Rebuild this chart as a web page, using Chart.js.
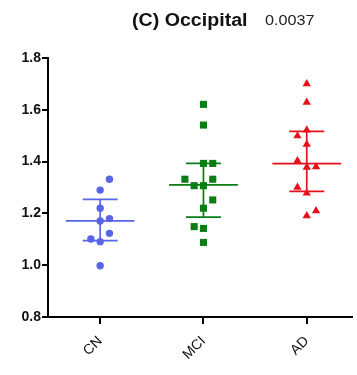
<!DOCTYPE html>
<html>
<head>
<meta charset="utf-8">
<script src="https://cdn.jsdelivr.net/npm/chart.js@4/dist/chart.umd.min.js"></script>
<style>
  html, body { margin: 0; padding: 0; background: #fff; }
  #wrap { position: relative; width: 357px; height: 375px; overflow: hidden; }
  #title { position: absolute; left: 132px; top: 10px; font: bold 18px Arial, 'Liberation Sans', sans-serif; color: #111; white-space: nowrap; transform: scaleX(1.09); transform-origin: left top; }
  #pval { position: absolute; left: 265px; top: 11px; font: 15px Arial, 'Liberation Sans', sans-serif; color: #222; white-space: nowrap; transform: scaleX(1.08); transform-origin: left top; }
  canvas { position: absolute; left: 0; top: 0; }
</style>
</head>
<body>
<div id="wrap">
  <canvas id="chart" width="357" height="375"></canvas>
  <div id="title">(C) Occipital</div>
  <div id="pval">0.0037</div>
</div>
<script>
// groups on the x axis
const groups = ['CN', 'MCI', 'AD'];
const yTicks = [0.8, 1.0, 1.2, 1.4, 1.6, 1.8];

// individual values per group, and their jitter column (-2..+1) in the scatter
const cnVals  = [1.332, 1.290, 1.220, 1.171, 1.180, 1.123, 1.101, 1.091, 0.998];
const cnCols  = [1, 0, 0, 0, 1, 1, -1, 0, 0];
const mciVals = [1.621, 1.541, 1.393, 1.393, 1.332, 1.307, 1.307, 1.332, 1.252, 1.220, 1.149, 1.142, 1.088];
const mciCols = [0, 0, 0, 1, -2, -1, 0, 1, 1, 0, -1, 0, 0];
const adVals  = [1.700, 1.629, 1.522, 1.499, 1.467, 1.403, 1.378, 1.380, 1.301, 1.278, 1.210, 1.191];
const adCols  = [0, 0, 0, -1, 0, -1, 0, 1, -1, 0, 1, 0];

// summary lines (centre, upper, lower)
const centre = [1.171, 1.310, 1.392];
const upper  = [1.254, 1.393, 1.517];
const lower  = [1.095, 1.186, 1.285];

const colors = ['rgb(88,101,230)', 'rgb(10,125,20)', 'rgb(232,16,26)'];
const JIT = 0.09;
const FONT = "Arial, 'Liberation Sans', sans-serif";

const pts = (vals, cols, g) => vals.map((v, i) => ({ x: g + cols[i] * JIT, y: v }));

const errorBars = {
  id: 'errorBars',
  beforeDatasetsDraw(chart) {
    const { ctx, scales: { x, y } } = chart;
    ctx.save();
    ctx.lineWidth = 1.7;
    groups.forEach((g, i) => {
      ctx.strokeStyle = colors[i];
      const seg = (x0, x1, y0, y1) => {
        ctx.beginPath();
        ctx.moveTo(x.getPixelForValue(x0), y.getPixelForValue(y0));
        ctx.lineTo(x.getPixelForValue(x1), y.getPixelForValue(y1));
        ctx.stroke();
      };
      seg(i, i, lower[i], upper[i]);
      seg(i - 0.333, i + 0.333, centre[i], centre[i]);
      seg(i - 0.169, i + 0.169, upper[i], upper[i]);
      seg(i - 0.169, i + 0.169, lower[i], lower[i]);
    });
    ctx.restore();
  }
};

new Chart(document.getElementById('chart'), {
  type: 'scatter',
  data: {
    datasets: [
      { label: 'CN', data: pts(cnVals, cnCols, 0), backgroundColor: colors[0], borderColor: colors[0], pointStyle: 'circle', pointRadius: 3.7, borderWidth: 0 },
      { label: 'MCI', data: pts(mciVals, mciCols, 1), backgroundColor: colors[1], borderColor: colors[1], pointStyle: 'rect', pointRadius: 5, borderWidth: 0 },
      { label: 'AD', data: pts(adVals, adCols, 2), backgroundColor: colors[2], borderColor: colors[2], pointStyle: 'triangle', pointRadius: 4.8, borderWidth: 0 }
    ]
  },
  options: {
    responsive: false,
    animation: false,
    layout: { padding: { top: 58, left: 0, right: 0, bottom: 0 } },
    plugins: { legend: { display: false }, tooltip: { enabled: false } },
    scales: {
      x: {
        type: 'linear', min: -0.505, max: 2.438,
        afterBuildTicks: s => { s.ticks = groups.map((_, i) => ({ value: i })); },
        afterFit: s => { s.height = 58; },
        ticks: { callback: v => groups[v], minRotation: 45, maxRotation: 45, color: '#111', font: { family: FONT, size: 14 }, padding: 9 },
        grid: { drawOnChartArea: false, drawTicks: true, tickLength: 7, color: '#000', lineWidth: 2 },
        border: { display: true, color: '#000', width: 2 }
      },
      y: {
        min: 0.8, max: 1.8,
        afterBuildTicks: s => { s.ticks = yTicks.map(v => ({ value: v })); },
        afterFit: s => { s.width = 48; },
        ticks: { callback: v => v.toFixed(1), color: '#111', font: { family: FONT, size: 14, weight: 'bold' }, padding: 1 },
        grid: { drawOnChartArea: false, drawTicks: true, tickLength: 6, color: '#000', lineWidth: 2 },
        border: { display: true, color: '#000', width: 2 }
      }
    }
  },
  plugins: [errorBars]
});
</script>
</body>
</html>
